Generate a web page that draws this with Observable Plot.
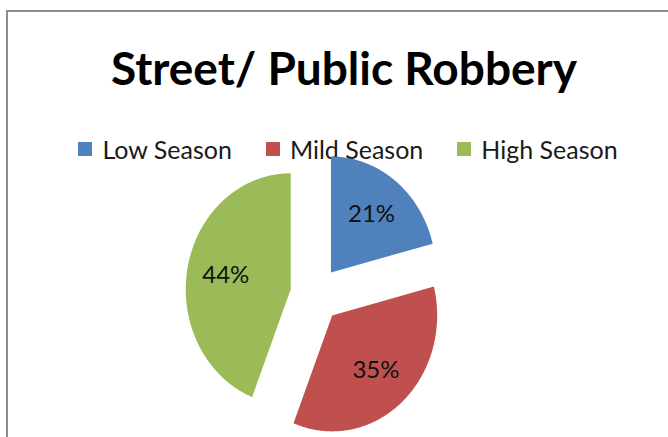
<!DOCTYPE html>
<html>
<head>
<meta charset="utf-8">
<script src="https://cdn.jsdelivr.net/npm/d3@7"></script>
<script src="https://cdn.jsdelivr.net/npm/@observablehq/plot@0.6"></script>
<style>
  html, body { margin: 0; padding: 0; background: #fff; }
  #page { position: relative; width: 668px; height: 437px; overflow: hidden; background: #fff; font-family: Lato, "Open Sans", sans-serif; }
  #frame { position: absolute; left: 6px; top: 10px; width: 800px; height: 600px; border-left: 2px solid #8c8c8c; border-top: 2px solid #8c8c8c; }
  #title { position: absolute; left: 0; width: 688px; top: 45px; text-align: center; font-size: 46px; line-height: 46px; font-weight: 700; color: #000; white-space: nowrap; }
  #legend { position: absolute; left: 0; width: 696px; top: 135px; display: flex; justify-content: center; gap: 34px; font-size: 25px; line-height: 28px; color: #1a1a1a; }
  .item { display: flex; align-items: center; gap: 10px; white-space: nowrap; }
  .sw { width: 14px; height: 14px; display: inline-block; }
  #chart { position: absolute; left: 0; top: 150px; }
</style>
</head>
<body>
<div id="page">
  <div id="frame"></div>
  <div id="title"></div>
  <div id="legend"></div>
  <div id="chart"></div>
</div>
<script>
const titleText = "Street/ Public Robbery";
const categories = ["Low Season", "Mild Season", "High Season"];
const values = [21, 35, 44];
const labels = ["21%", "35%", "44%"];
const colors = ["#4F81BD", "#C0504D", "#9BBB59"];

document.getElementById("title").textContent = titleText;
const legend = d3.select("#legend");
categories.forEach((c, i) => {
  const it = legend.append("div").attr("class", "item");
  it.append("span").attr("class", "sw").style("background", colors[i]);
  it.append("span").text(c);
});

// geometry (unit circle), exploded slices
const explode = 0.24;
const labelDist = 0.63;
const arcs = d3.pie().sort(null)(values);
const slicePts = [];
const labelPts = [];
arcs.forEach((a, i) => {
  const mid = (a.startAngle + a.endAngle) / 2;
  const ox = explode * Math.sin(mid), oy = explode * Math.cos(mid);
  slicePts.push({cat: categories[i], x: ox, y: oy});
  const n = Math.max(2, Math.ceil((a.endAngle - a.startAngle) / 0.01));
  for (let k = 0; k <= n; k++) {
    const t = a.startAngle + (a.endAngle - a.startAngle) * k / n;
    slicePts.push({cat: categories[i], x: ox + Math.sin(t), y: oy + Math.cos(t)});
  }
  labelPts.push({label: labels[i], x: ox + labelDist * Math.sin(mid), y: oy + labelDist * Math.cos(mid)});
});

const W = 668, H = 287;
const rx = 105, ry = 116;   // pixels per unit
const cx = 315, cy = 144;   // center in svg pixels
const plot = Plot.plot({
  width: W, height: H,
  margin: 0,
  x: {domain: [-cx / rx, (W - cx) / rx], axis: null},
  y: {domain: [-(H - cy) / ry, cy / ry], axis: null},
  color: {domain: categories, range: colors},
  style: {background: "transparent", overflow: "visible"},
  marks: [
    Plot.line(slicePts, {x: "x", y: "y", z: "cat", fill: "cat", stroke: "none", curve: "linear-closed"}),
    Plot.text(labelPts, {x: "x", y: "y", text: "label", fontSize: 24, fill: "#111", fontFamily: "Lato, sans-serif"})
  ]
});
document.getElementById("chart").appendChild(plot);
</script>
</body>
</html>
